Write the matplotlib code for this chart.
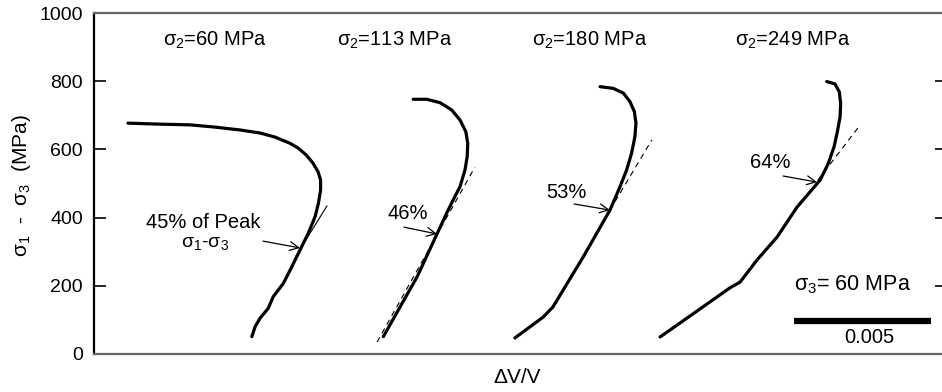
import matplotlib
matplotlib.use("Agg")
import matplotlib.pyplot as plt

plt.rcParams['font.family'] = ['Liberation Sans', 'DejaVu Sans']
plt.rcParams['mathtext.fontset'] = 'custom'
plt.rcParams['mathtext.rm'] = 'Liberation Sans'
plt.rcParams['mathtext.it'] = 'Liberation Sans:italic'
plt.rcParams['mathtext.bf'] = 'Liberation Sans:bold'

# ---- data (x in units of 1e-3 volumetric strain, curves offset for display; y in MPa) ----
titles = [r'$\mathrm{\sigma_2}$=60 MPa', r'$\mathrm{\sigma_2}$=113 MPa',
          r'$\mathrm{\sigma_2}$=180 MPa', r'$\mathrm{\sigma_2}$=249 MPa']

c1_x = [5.76, 5.88, 6.06, 6.36, 6.54, 6.91, 7.22, 7.52, 7.82, 8.07, 8.19, 8.27, 8.27,
        8.18, 7.99, 7.74, 7.45, 7.15, 6.61, 6.06, 5.33, 4.34, 3.50, 2.41, 1.24]
c1_y = [51, 80, 105, 134, 168, 207, 256, 305, 354, 403, 442, 481, 510,
        534, 560, 584, 604, 618, 636, 648, 657, 666, 672, 674, 677]

c2_x = [10.56, 11.17, 11.79, 12.53, 12.87, 13.11, 13.36, 13.54, 13.62, 13.64, 13.57,
        13.36, 13.05, 12.63, 12.14, 11.65]
c2_y = [51, 138, 226, 354, 413, 452, 491, 540, 579, 618, 652,
        686, 716, 737, 747, 747]

c3_x = [15.36, 16.39, 16.75, 17.85, 18.83, 19.20, 19.44, 19.62, 19.74, 19.78, 19.72,
        19.56, 19.32, 18.95, 18.47]
c3_y = [47, 108, 138, 284, 422, 491, 540, 589, 637, 677, 711,
        740, 765, 779, 784]

c4_x = [20.66, 21.39, 23.21, 23.58, 24.20, 24.93, 25.66, 26.50, 26.80, 27.01, 27.13,
        27.23, 27.25, 27.20, 27.04, 26.74]
c4_y = [50, 91, 194, 211, 276, 343, 431, 510, 559, 608, 652,
        696, 735, 769, 792, 799]

# tangent (linear) segments
tan1_x, tan1_y = [7.37, 8.50], [287, 434]
tan2_x, tan2_y = [10.33, 13.90], [35, 548]
tan3_x, tan3_y = [18.83, 20.36], [422, 628]
tan4_x, tan4_y = [26.42, 27.88], [510, 663]

pct_labels = ['46%', '53%', '64%']
pct_tip_x = [12.52, 18.83, 26.39]
pct_tip_y = [352, 422, 504]

yticks = [0, 200, 400, 600, 800, 1000]
scale_len = 5.0  # 0.005 strain

# ---- figure ----
fig = plt.figure(figsize=(9.42, 3.92), dpi=100)
ax = fig.add_axes([94/942, 38/392, 853/942, 341/392])
ax.set_xlim(0, 853 * 0.036496)
ax.set_ylim(0, 1000)

lw = 2.3
for cx, cy in [(c1_x, c1_y), (c2_x, c2_y), (c3_x, c3_y), (c4_x, c4_y)]:
    ax.plot(cx, cy, color='black', lw=lw, solid_capstyle='round', solid_joinstyle='round', zorder=3)

ax.plot(tan1_x, tan1_y, color='black', lw=0.8, zorder=2)
for tx, ty in [(tan2_x, tan2_y), (tan3_x, tan3_y), (tan4_x, tan4_y)]:
    ax.plot(tx, ty, color='black', lw=0.8, ls=(0, (5, 4)), zorder=2)

# titles
title_x = [4.42, 10.99, 18.10, 25.51]
for t, tx in zip(titles, title_x):
    ax.text(tx, 921, t, ha='center', va='center', fontsize=14.5)

# annotations
arrowprops = dict(arrowstyle='->', color='black', lw=0.9, mutation_scale=16, shrinkA=0, shrinkB=0)
ax.annotate('', xy=(7.52, 311), xytext=(6.17, 331), arrowprops=arrowprops)
ax.text(3.98, 387, '45% of Peak', ha='center', va='center', fontsize=14.5)
ax.text(4.05, 323, r'$\mathrm{\sigma_1}$-$\mathrm{\sigma_3}$', ha='center', va='center', fontsize=14)

tails = [(11.31, 372), (17.52, 440), (25.15, 522)]
text_pos = [(11.46, 411), (17.26, 475), (24.67, 563)]
for lab, tipx, tipy, tl, tp in zip(pct_labels, pct_tip_x, pct_tip_y, tails, text_pos):
    ax.annotate('', xy=(tipx, tipy), xytext=tl, arrowprops=arrowprops)
    ax.text(tp[0], tp[1], lab, ha='center', va='center', fontsize=14.5)

# scale bar
sb_x0 = 25.55
ax.plot([sb_x0, sb_x0 + scale_len], [97, 97], color='black', lw=4.5, solid_capstyle='butt')
ax.text(sb_x0 + scale_len / 2 + 0.25, 47, '0.005', ha='center', va='center', fontsize=14.5)
ax.text(27.70, 202, r'$\mathrm{\sigma_3}$= 60 MPa', ha='center', va='center', fontsize=15.5)

# axes styling
ax.set_xticks([])
ax.set_yticks(yticks)
ax.tick_params(axis='y', direction='in', length=8.6, width=1.2, labelsize=14, pad=8,
               right=True, left=True)
ax.spines['left'].set_linewidth(1.6)
ax.spines['left'].set_color('black')
for s in ['top', 'bottom']:
    ax.spines[s].set_linewidth(1.6)
    ax.spines[s].set_color('#666666')
ax.spines['right'].set_linewidth(1.2)

ax.set_ylabel(r'$\mathrm{\sigma_1}$  -  $\mathrm{\sigma_3}$  (MPa)', fontsize=15)
ax.yaxis.set_label_coords(-0.072, 0.493)
ax.set_xlabel('ΔV/V', fontsize=15)
ax.xaxis.set_label_coords(0.496, -0.041)

fig.savefig('out.png', dpi=100)
